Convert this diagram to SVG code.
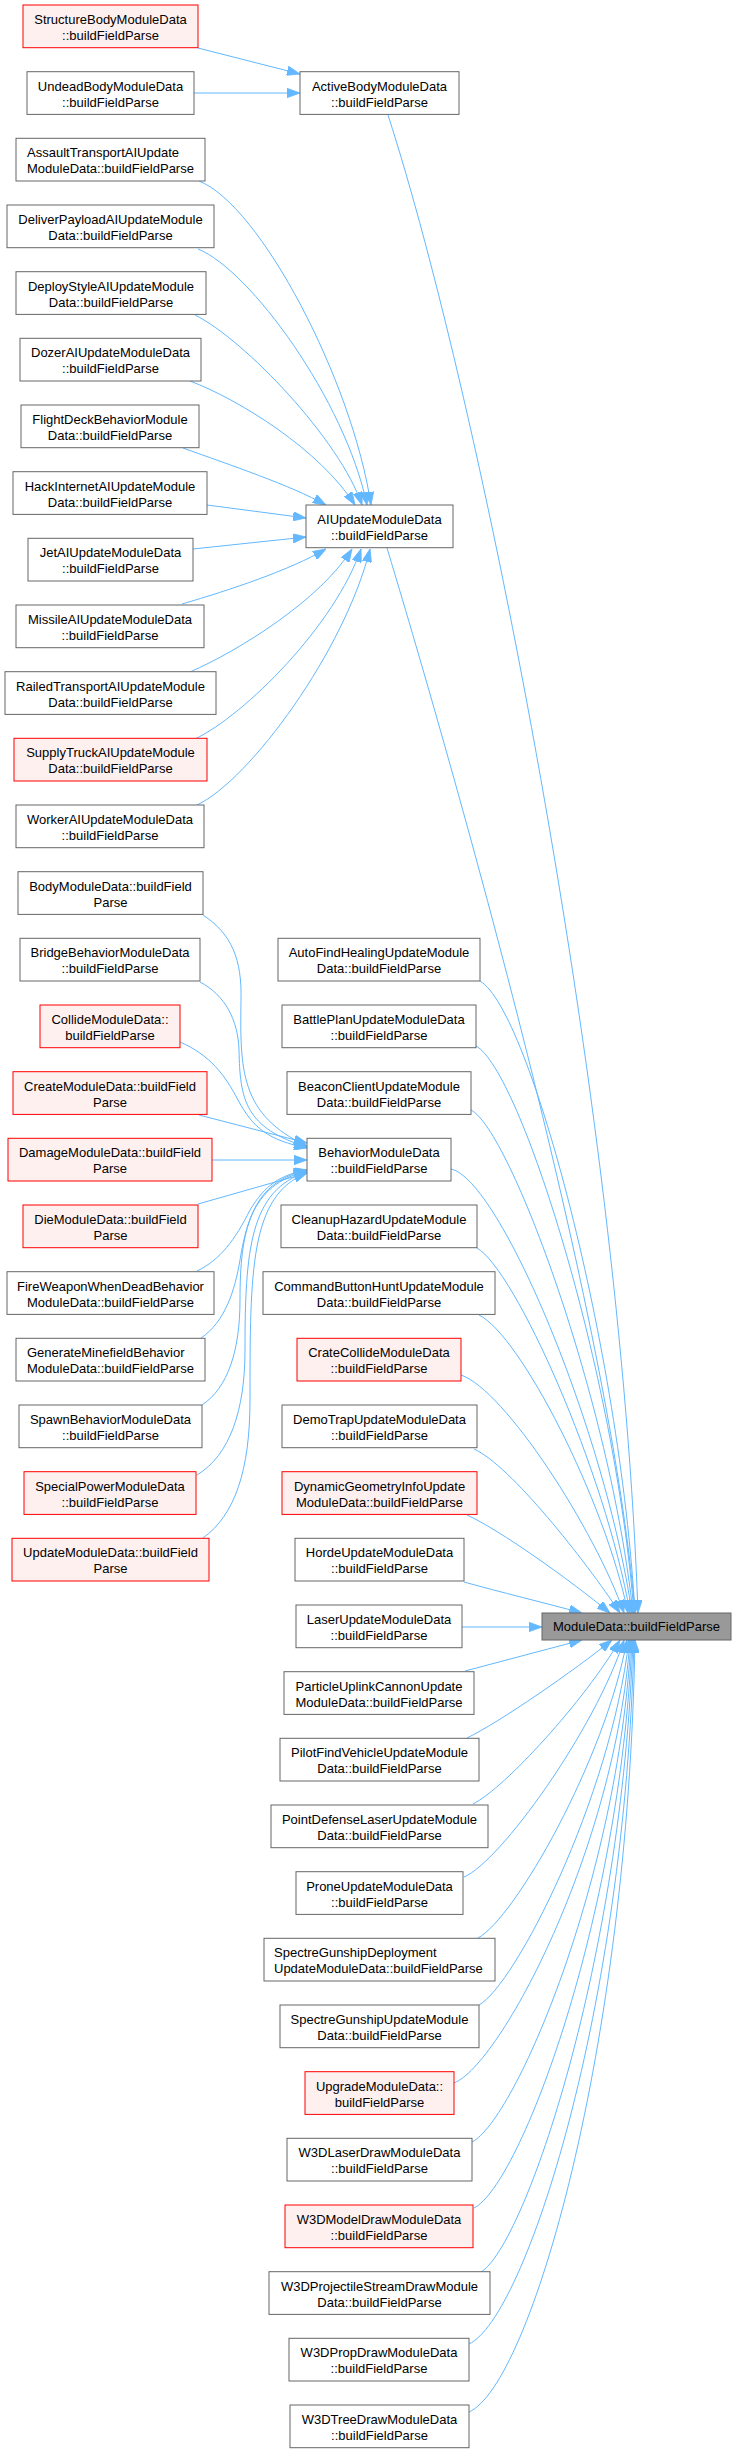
<svg xmlns="http://www.w3.org/2000/svg" width="737" height="2453" viewBox="0 0 737 2453">
<style>
.n rect{fill:#ffffff;stroke:#666666;stroke-width:1}
.r rect{fill:#fff0f0;stroke:#ff0000;stroke-width:1}
.m rect{fill:#999999;stroke:#666666;stroke-width:1}
text{font-family:"Liberation Sans",Arial,Helvetica,sans-serif;font-size:13px;fill:#000000;text-anchor:middle}
text.l{text-anchor:start}
#edges path{fill:none;stroke:#63b8ff;stroke-width:1;marker-end:url(#ah)}
</style>
<defs>
<marker id="ah" markerUnits="userSpaceOnUse" viewBox="0 0 13 9.4" refX="13" refY="4.7" markerWidth="13" markerHeight="9.4" orient="auto">
<path d="M0,0 L13,4.7 L0,9.4 z" fill="#63b8ff" stroke="#63b8ff" stroke-width="0.8"/>
</marker>
</defs>
<rect width="737" height="2453" fill="#ffffff"/>
<g id="edges">
<path d="M198,48 L300,74"/>
<path d="M194,93 L300,93"/>
<path d="M388,115 C480,400 620,1100 638,1613"/>
<path d="M199,181 C260,205 352,380 371,505"/>
<path d="M198,249 C250,270 345,400 367,505"/>
<path d="M195,315 C245,340 340,440 362,505"/>
<path d="M190,381 C240,400 320,450 355,505"/>
<path d="M183,448 C230,465 290,485 326,505"/>
<path d="M207,505 L306,518"/>
<path d="M193,549 L306,537"/>
<path d="M182,604 C230,590 290,570 326,549"/>
<path d="M190,672 C240,650 320,600 352,549"/>
<path d="M195,739 C245,715 335,625 361,549"/>
<path d="M197,805 C250,780 345,650 370,549"/>
<path d="M387,548 C430,690 610,1300 635,1613"/>
<path d="M203,915 C232,934 242,960 241,1000 C240,1070 240,1115 307,1146"/>
<path d="M200,982 C225,995 238,1020 239,1050 C240,1100 245,1128 307,1147"/>
<path d="M180,1042 C210,1055 225,1075 238,1100 C253,1128 268,1140 307,1148"/>
<path d="M199,1115 L307,1143"/>
<path d="M212,1160 L307,1160"/>
<path d="M198,1204 L307,1173"/>
<path d="M197,1271 C220,1260 235,1240 250,1210 C265,1185 280,1175 307,1170"/>
<path d="M201,1338 C225,1322 235,1290 240,1260 C248,1210 262,1180 307,1170"/>
<path d="M202,1405 C228,1388 240,1350 240,1300 C240,1230 250,1185 307,1171"/>
<path d="M197,1475 C230,1455 245,1410 245,1350 C245,1250 250,1190 307,1172"/>
<path d="M203,1538 C235,1515 250,1470 250,1400 C250,1270 250,1195 307,1173"/>
<path d="M451,1169 C500,1180 605,1430 632,1613"/>
<path d="M480,981 C530,1010 620,1350 635,1613"/>
<path d="M476,1046 C520,1070 615,1370 634,1613"/>
<path d="M471,1110 C510,1130 610,1400 633,1613"/>
<path d="M477,1248 C515,1270 605,1470 630,1613"/>
<path d="M479,1315 C520,1335 605,1500 628,1613"/>
<path d="M461,1375 C505,1390 595,1530 624,1613"/>
<path d="M474,1449 C510,1465 585,1560 620,1613"/>
<path d="M467,1515 C500,1530 570,1580 610,1613"/>
<path d="M464,1582 C500,1592 545,1603 582,1613"/>
<path d="M462,1627 L542,1627"/>
<path d="M465,1671 L582,1640"/>
<path d="M467,1738 C500,1722 575,1670 612,1640"/>
<path d="M473,1804 C505,1788 585,1700 620,1640"/>
<path d="M464,1877 C500,1862 595,1730 624,1640"/>
<path d="M478,1938 C515,1918 605,1760 627,1640"/>
<path d="M479,2005 C515,1985 610,1800 629,1640"/>
<path d="M454,2083 C500,2065 615,1850 630,1640"/>
<path d="M472,2142 C515,2120 618,1880 631,1640"/>
<path d="M474,2208 C520,2185 620,1920 632,1640"/>
<path d="M481,2272 C525,2245 622,1960 633,1640"/>
<path d="M469,2344 C525,2318 625,2010 634,1640"/>
<path d="M469,2412 C530,2385 628,2050 635,1640"/>
</g>
<g id="n_ModuleData" class="m"><rect x="542" y="1613" width="189" height="27"/><text x="636.5" y="1631">ModuleData::buildFieldParse</text></g>
<g id="n_StructureBody" class="r"><rect x="23" y="5" width="175" height="42.7"/><text x="110.5" y="24">StructureBodyModuleData</text><text x="110.5" y="40">::buildFieldParse</text></g>
<g id="n_UndeadBody" class="n"><rect x="27" y="71.7" width="167" height="42.7"/><text x="110.5" y="90.7">UndeadBodyModuleData</text><text x="110.5" y="106.7">::buildFieldParse</text></g>
<g id="n_AssaultTransport" class="n"><rect x="16" y="138.3" width="189" height="42.7"/><text class="l" x="27" y="157.3">AssaultTransportAIUpdate</text><text class="l" x="27" y="173.3">ModuleData::buildFieldParse</text></g>
<g id="n_DeliverPayload" class="n"><rect x="7" y="205" width="207" height="42.7"/><text x="110.5" y="224">DeliverPayloadAIUpdateModule</text><text x="110.5" y="240">Data::buildFieldParse</text></g>
<g id="n_DeployStyle" class="n"><rect x="16" y="271.7" width="190" height="42.7"/><text x="111" y="290.7">DeployStyleAIUpdateModule</text><text x="111" y="306.7">Data::buildFieldParse</text></g>
<g id="n_Dozer" class="n"><rect x="20" y="338.3" width="181" height="42.7"/><text x="110.5" y="357.3">DozerAIUpdateModuleData</text><text x="110.5" y="373.3">::buildFieldParse</text></g>
<g id="n_FlightDeck" class="n"><rect x="21" y="405" width="178" height="42.7"/><text x="110" y="424">FlightDeckBehaviorModule</text><text x="110" y="440">Data::buildFieldParse</text></g>
<g id="n_HackInternet" class="n"><rect x="13" y="471.7" width="194" height="42.7"/><text x="110" y="490.7">HackInternetAIUpdateModule</text><text x="110" y="506.7">Data::buildFieldParse</text></g>
<g id="n_JetAI" class="n"><rect x="28" y="538.3" width="165" height="42.7"/><text x="110.5" y="557.3">JetAIUpdateModuleData</text><text x="110.5" y="573.3">::buildFieldParse</text></g>
<g id="n_MissileAI" class="n"><rect x="16" y="605" width="188" height="42.7"/><text x="110" y="624">MissileAIUpdateModuleData</text><text x="110" y="640">::buildFieldParse</text></g>
<g id="n_RailedTransport" class="n"><rect x="5" y="671.7" width="211" height="42.7"/><text x="110.5" y="690.7">RailedTransportAIUpdateModule</text><text x="110.5" y="706.7">Data::buildFieldParse</text></g>
<g id="n_SupplyTruck" class="r"><rect x="14" y="738.3" width="193" height="42.7"/><text x="110.5" y="757.3">SupplyTruckAIUpdateModule</text><text x="110.5" y="773.3">Data::buildFieldParse</text></g>
<g id="n_WorkerAI" class="n"><rect x="16" y="805" width="188" height="42.7"/><text x="110" y="824">WorkerAIUpdateModuleData</text><text x="110" y="840">::buildFieldParse</text></g>
<g id="n_BodyModule" class="n"><rect x="18" y="871.7" width="185" height="42.7"/><text x="110.5" y="890.7">BodyModuleData::buildField</text><text x="110.5" y="906.7">Parse</text></g>
<g id="n_BridgeBehavior" class="n"><rect x="20" y="938.3" width="180" height="42.7"/><text x="110" y="957.3">BridgeBehaviorModuleData</text><text x="110" y="973.3">::buildFieldParse</text></g>
<g id="n_Collide" class="r"><rect x="40" y="1005" width="140" height="42.7"/><text x="110" y="1024">CollideModuleData::</text><text x="110" y="1040">buildFieldParse</text></g>
<g id="n_Create" class="r"><rect x="13" y="1071.7" width="194" height="42.7"/><text x="110" y="1090.7">CreateModuleData::buildField</text><text x="110" y="1106.7">Parse</text></g>
<g id="n_Damage" class="r"><rect x="8" y="1138.3" width="204" height="42.7"/><text x="110" y="1157.3">DamageModuleData::buildField</text><text x="110" y="1173.3">Parse</text></g>
<g id="n_Die" class="r"><rect x="23" y="1205" width="175" height="42.7"/><text x="110.5" y="1224">DieModuleData::buildField</text><text x="110.5" y="1240">Parse</text></g>
<g id="n_FireWeapon" class="n"><rect x="7" y="1271.7" width="207" height="42.7"/><text x="110.5" y="1290.7">FireWeaponWhenDeadBehavior</text><text x="110.5" y="1306.7">ModuleData::buildFieldParse</text></g>
<g id="n_GenerateMinefield" class="n"><rect x="16" y="1338.3" width="189" height="42.7"/><text class="l" x="27" y="1357.3">GenerateMinefieldBehavior</text><text class="l" x="27" y="1373.3">ModuleData::buildFieldParse</text></g>
<g id="n_SpawnBehavior" class="n"><rect x="19" y="1405" width="183" height="42.7"/><text x="110.5" y="1424">SpawnBehaviorModuleData</text><text x="110.5" y="1440">::buildFieldParse</text></g>
<g id="n_SpecialPower" class="r"><rect x="24" y="1471.7" width="172" height="42.7"/><text x="110" y="1490.7">SpecialPowerModuleData</text><text x="110" y="1506.7">::buildFieldParse</text></g>
<g id="n_UpdateModule" class="r"><rect x="12" y="1538.3" width="197" height="42.7"/><text x="110.5" y="1557.3">UpdateModuleData::buildField</text><text x="110.5" y="1573.3">Parse</text></g>
<g id="n_ActiveBody" class="n"><rect x="300" y="71.7" width="159" height="42.7"/><text x="379.5" y="90.7">ActiveBodyModuleData</text><text x="379.5" y="106.7">::buildFieldParse</text></g>
<g id="n_AIUpdate" class="n"><rect x="306" y="505" width="147" height="42.7"/><text x="379.5" y="524">AIUpdateModuleData</text><text x="379.5" y="540">::buildFieldParse</text></g>
<g id="n_AutoFindHealing" class="n"><rect x="278" y="938.3" width="202" height="42.7"/><text x="379" y="957.3">AutoFindHealingUpdateModule</text><text x="379" y="973.3">Data::buildFieldParse</text></g>
<g id="n_BattlePlan" class="n"><rect x="282" y="1005" width="194" height="42.7"/><text x="379" y="1024">BattlePlanUpdateModuleData</text><text x="379" y="1040">::buildFieldParse</text></g>
<g id="n_BeaconClient" class="n"><rect x="287" y="1071.7" width="184" height="42.7"/><text x="379" y="1090.7">BeaconClientUpdateModule</text><text x="379" y="1106.7">Data::buildFieldParse</text></g>
<g id="n_BehaviorModule" class="n"><rect x="307" y="1138.3" width="144" height="42.7"/><text x="379" y="1157.3">BehaviorModuleData</text><text x="379" y="1173.3">::buildFieldParse</text></g>
<g id="n_CleanupHazard" class="n"><rect x="281" y="1205" width="196" height="42.7"/><text x="379" y="1224">CleanupHazardUpdateModule</text><text x="379" y="1240">Data::buildFieldParse</text></g>
<g id="n_CommandButtonHunt" class="n"><rect x="263" y="1271.7" width="232" height="42.7"/><text x="379" y="1290.7">CommandButtonHuntUpdateModule</text><text x="379" y="1306.7">Data::buildFieldParse</text></g>
<g id="n_CrateCollide" class="r"><rect x="297" y="1338.3" width="164" height="42.7"/><text x="379" y="1357.3">CrateCollideModuleData</text><text x="379" y="1373.3">::buildFieldParse</text></g>
<g id="n_DemoTrap" class="n"><rect x="282" y="1405" width="195" height="42.7"/><text x="379.5" y="1424">DemoTrapUpdateModuleData</text><text x="379.5" y="1440">::buildFieldParse</text></g>
<g id="n_DynamicGeometry" class="r"><rect x="282" y="1471.7" width="195" height="42.7"/><text x="379.5" y="1490.7">DynamicGeometryInfoUpdate</text><text x="379.5" y="1506.7">ModuleData::buildFieldParse</text></g>
<g id="n_Horde" class="n"><rect x="295" y="1538.3" width="169" height="42.7"/><text x="379.5" y="1557.3">HordeUpdateModuleData</text><text x="379.5" y="1573.3">::buildFieldParse</text></g>
<g id="n_Laser" class="n"><rect x="296" y="1605" width="166" height="42.7"/><text x="379" y="1624">LaserUpdateModuleData</text><text x="379" y="1640">::buildFieldParse</text></g>
<g id="n_ParticleUplink" class="n"><rect x="284" y="1671.7" width="190" height="42.7"/><text x="379" y="1690.7">ParticleUplinkCannonUpdate</text><text x="379" y="1706.7">ModuleData::buildFieldParse</text></g>
<g id="n_PilotFind" class="n"><rect x="280" y="1738.3" width="199" height="42.7"/><text x="379.5" y="1757.3">PilotFindVehicleUpdateModule</text><text x="379.5" y="1773.3">Data::buildFieldParse</text></g>
<g id="n_PointDefense" class="n"><rect x="271" y="1805" width="217" height="42.7"/><text x="379.5" y="1824">PointDefenseLaserUpdateModule</text><text x="379.5" y="1840">Data::buildFieldParse</text></g>
<g id="n_Prone" class="n"><rect x="296" y="1871.7" width="167" height="42.7"/><text x="379.5" y="1890.7">ProneUpdateModuleData</text><text x="379.5" y="1906.7">::buildFieldParse</text></g>
<g id="n_SpectreDeployment" class="n"><rect x="264" y="1938.3" width="231" height="42.7"/><text class="l" x="274" y="1957.3">SpectreGunshipDeployment</text><text class="l" x="274" y="1973.3">UpdateModuleData::buildFieldParse</text></g>
<g id="n_SpectreGunship" class="n"><rect x="280" y="2005" width="199" height="42.7"/><text x="379.5" y="2024">SpectreGunshipUpdateModule</text><text x="379.5" y="2040">Data::buildFieldParse</text></g>
<g id="n_Upgrade" class="r"><rect x="305" y="2071.7" width="149" height="42.7"/><text x="379.5" y="2090.7">UpgradeModuleData::</text><text x="379.5" y="2106.7">buildFieldParse</text></g>
<g id="n_W3DLaser" class="n"><rect x="287" y="2138.3" width="185" height="42.7"/><text x="379.5" y="2157.3">W3DLaserDrawModuleData</text><text x="379.5" y="2173.3">::buildFieldParse</text></g>
<g id="n_W3DModel" class="r"><rect x="285" y="2205" width="188" height="42.7"/><text x="379" y="2224">W3DModelDrawModuleData</text><text x="379" y="2240">::buildFieldParse</text></g>
<g id="n_W3DProjectile" class="n"><rect x="269" y="2271.7" width="221" height="42.7"/><text x="379.5" y="2290.7">W3DProjectileStreamDrawModule</text><text x="379.5" y="2306.7">Data::buildFieldParse</text></g>
<g id="n_W3DProp" class="n"><rect x="289" y="2338.3" width="180" height="42.7"/><text x="379" y="2357.3">W3DPropDrawModuleData</text><text x="379" y="2373.3">::buildFieldParse</text></g>
<g id="n_W3DTree" class="n"><rect x="290" y="2405" width="179" height="42.7"/><text x="379.5" y="2424">W3DTreeDrawModuleData</text><text x="379.5" y="2440">::buildFieldParse</text></g>
</svg>
